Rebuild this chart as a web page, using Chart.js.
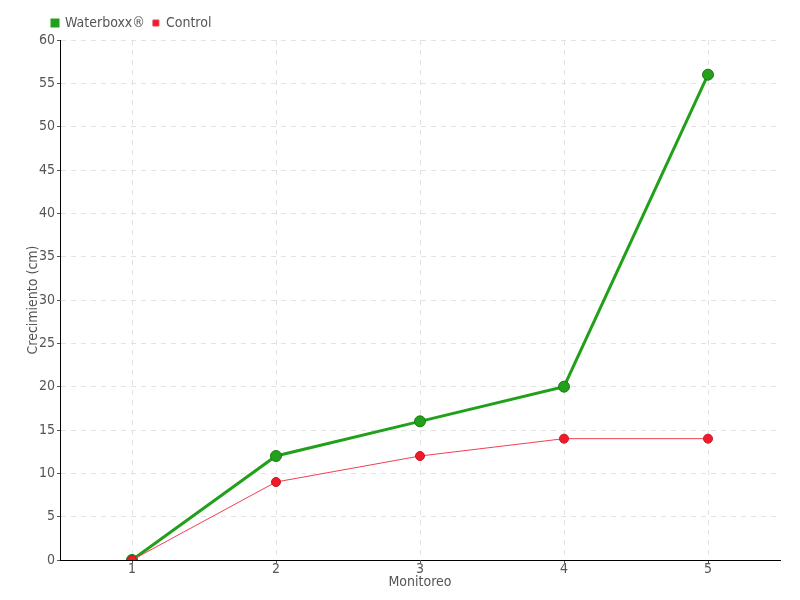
<!DOCTYPE html>
<html lang="es">
<head>
<meta charset="UTF-8">
<title>Crecimiento</title>
<script src="https://cdn.jsdelivr.net/npm/chart.js@4.4.0/dist/chart.umd.min.js"></script>
<style>
    body { margin: 0; background: #fff; }
    #wrap { width: 800px; height: 600px; }
</style>
</head>
<body>
<div id="wrap"><canvas id="chart" width="800" height="600"></canvas></div>
<script>
    // data
    const monitoreo = ['1', '2', '3', '4', '5'];
    const waterboxx = [0, 12, 16, 20, 56];
    const control = [0, 9, 12, 14, 14];

    Chart.defaults.font.family = '"DejaVu Sans Condensed", "DejaVu Sans", sans-serif';
    Chart.defaults.font.size = 14;
    Chart.defaults.color = '#555';

    // legend sits a little left of the plot area, like the original
    const legendNudge = {
        id: 'legendNudge',
        afterLayout(chart) {
            chart.legend.left -= 16;
        }
    };

    new Chart(document.getElementById('chart').getContext('2d'), {
        type: 'line',
        data: {
            labels: monitoreo,
            datasets: [{
                label: 'Waterboxx®',
                data: waterboxx,
                order: 1,
                borderColor: '#22a01c',
                backgroundColor: '#22a01c',
                borderWidth: 3,
                pointRadius: 5.5,
                pointBorderColor: '#1a7a14',
                pointBorderWidth: 1,
                tension: 0
            }, {
                label: 'Control',
                data: control,
                order: 0,
                borderColor: '#f04050',
                backgroundColor: '#ee1c2a',
                borderWidth: 1,
                pointRadius: 4.5,
                pointBorderColor: '#d01020',
                pointBorderWidth: 1,
                tension: 0
            }]
        },
        plugins: [legendNudge],
        options: {
            responsive: false,
            animation: false,
            layout: { padding: { left: 0, right: 20, top: 8, bottom: 6 } },
            plugins: {
                legend: {
                    align: 'start',
                    fullSize: false,
                    labels: {
                        boxWidth: 6,
                        boxHeight: 6,
                        padding: 8,
                        font: { size: 14 },
                        sort: (a, b) => a.datasetIndex - b.datasetIndex
                    }
                },
                tooltip: { enabled: false }
            },
            scales: {
                x: {
                    offset: true,
                    grid: {
                        offset: false,
                        color: '#e2e2e2',
                        tickColor: '#555',
                        tickLength: 3
                    },
                    border: { color: '#000', width: 1, dash: [5, 5] },
                    ticks: { padding: -2 },
                    title: { display: true, text: 'Monitoreo', padding: { top: 0, bottom: 3 } },
                    afterFit: function (scale) { scale.height = 34; }
                },
                y: {
                    min: 0,
                    max: 60,
                    ticks: { stepSize: 5, padding: 2 },
                    grid: {
                        color: '#e2e2e2',
                        tickColor: '#555',
                        tickLength: 3
                    },
                    border: { color: '#000', width: 1, dash: [5, 5] },
                    title: { display: true, text: 'Crecimiento (cm)', padding: { top: 25, bottom: 0 } },
                    afterFit: function (scale) { scale.width = 60; }
                }
            }
        }
    });
</script>
</body>
</html>
